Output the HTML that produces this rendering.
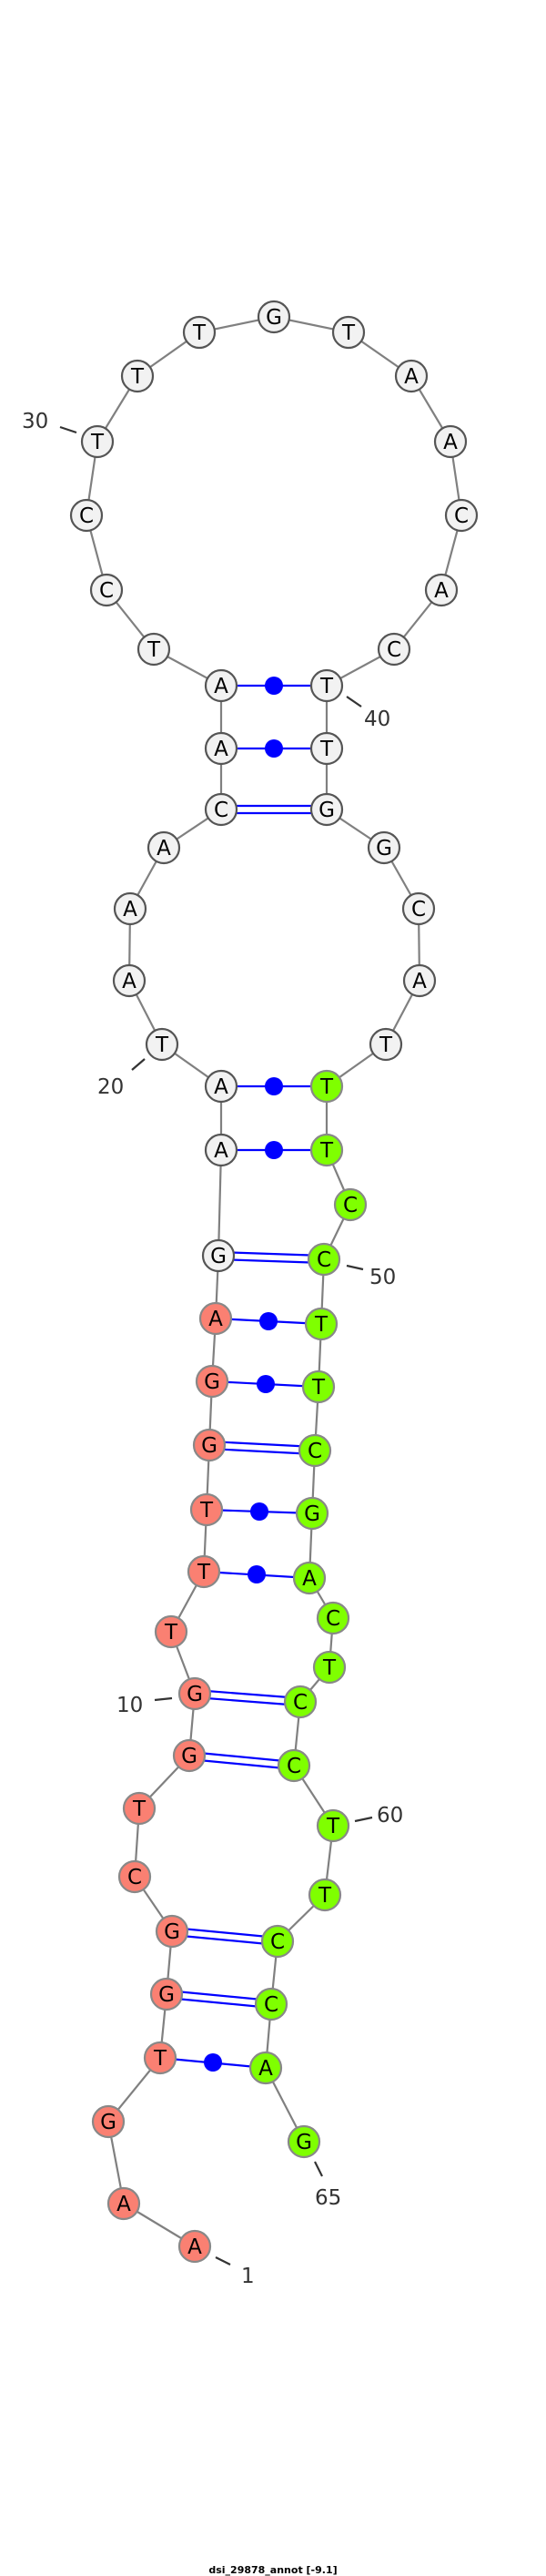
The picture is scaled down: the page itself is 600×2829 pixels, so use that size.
<!DOCTYPE html>
<html><head><meta charset="utf-8"><style>
html,body{margin:0;padding:0;background:#fff;}
svg{display:block;}
.n text{font-family:"DejaVu Sans","Liberation Sans",sans-serif;font-size:23px;text-anchor:middle;fill:#000;}
.w{fill:#f2f2f2;stroke:#555;stroke-width:2.2;}
.r{fill:#fa8072;stroke:#888;stroke-width:2.2;}
.g{fill:#7fff00;stroke:#888;stroke-width:2.2;}
.num{font-family:"DejaVu Sans","Liberation Sans",sans-serif;font-size:23px;fill:#333;}
</style></head><body>
<svg width="600" height="2829" viewBox="0 0 600 2829" xmlns="http://www.w3.org/2000/svg">
<polyline fill="none" stroke="#808080" stroke-width="2.2" points="214,2467 136,2420 119,2330 176,2260 183,2190 189,2121 148,2061 153,1986 208,1928 214,1860 188,1792 224,1726 227,1658 230,1587 233,1517 237,1448 240,1379 243,1263 243,1193 178,1147 142,1077 143,998 180,931 243,889 243,822 243,753 169,713 117,648 95,566 107,485 151,413 219,365 301,348 383,365 452,413 495,485 507,566 485,648 433,713 359,753 359,822 359,889 422,931 460,998 461,1077 424,1147 359,1193 359,1263 385,1323 356,1383 353,1454 350,1523 346,1593 343,1662 340,1733 366,1777 362,1831 330,1869 323,1939 366,2005 357,2081 305,2132 298,2201 292,2271 334,2352"/>
<g stroke="#0000ff" stroke-width="2.2" fill="#0000ff">
<line x1="243" y1="753" x2="359" y2="753"/><circle cx="301" cy="753" r="10" stroke="none"/>
<line x1="243" y1="822" x2="359" y2="822"/><circle cx="301" cy="822" r="10" stroke="none"/>
<line x1="243" y1="885" x2="359" y2="885"/><line x1="243" y1="893" x2="359" y2="893"/>
<line x1="243" y1="1193" x2="359" y2="1193"/><circle cx="301" cy="1193" r="10" stroke="none"/>
<line x1="243" y1="1263" x2="359" y2="1263"/><circle cx="301" cy="1263" r="10" stroke="none"/>
<line x1="240" y1="1375" x2="356" y2="1379"/><line x1="240" y1="1383" x2="356" y2="1387"/>
<line x1="237" y1="1448" x2="353" y2="1454"/><circle cx="295" cy="1451" r="10" stroke="none"/>
<line x1="233" y1="1517" x2="350" y2="1523"/><circle cx="292" cy="1520" r="10" stroke="none"/>
<line x1="230" y1="1583" x2="346" y2="1589"/><line x1="230" y1="1591" x2="346" y2="1597"/>
<line x1="227" y1="1658" x2="343" y2="1662"/><circle cx="285" cy="1660" r="10" stroke="none"/>
<line x1="224" y1="1726" x2="340" y2="1733"/><circle cx="282" cy="1729" r="10" stroke="none"/>
<line x1="214" y1="1856" x2="330" y2="1865"/><line x1="214" y1="1864" x2="330" y2="1873"/>
<line x1="208" y1="1924" x2="323" y2="1935"/><line x1="208" y1="1932" x2="323" y2="1943"/>
<line x1="189" y1="2117" x2="305" y2="2128"/><line x1="189" y1="2125" x2="305" y2="2136"/>
<line x1="183" y1="2186" x2="298" y2="2197"/><line x1="183" y1="2194" x2="298" y2="2205"/>
<line x1="176" y1="2260" x2="292" y2="2271"/><circle cx="234" cy="2265" r="10" stroke="none"/>
</g>
<g stroke="#333" stroke-width="2.2">
<line x1="66" y1="469" x2="84" y2="475"/>
<line x1="381" y1="765" x2="397" y2="776"/>
<line x1="145" y1="1175" x2="159" y2="1163"/>
<line x1="381" y1="1390" x2="399" y2="1394"/>
<line x1="170" y1="1867" x2="189" y2="1865"/>
<line x1="390" y1="2000" x2="409" y2="1996"/>
<line x1="346" y1="2374" x2="354" y2="2390"/>
<line x1="237" y1="2479" x2="253" y2="2487"/>
</g>
<text class="num" x="24" y="470">30</text>
<text class="num" x="400" y="797">40</text>
<text class="num" x="107" y="1201">20</text>
<text class="num" x="406" y="1410">50</text>
<text class="num" x="128" y="1880">10</text>
<text class="num" x="414" y="2001">60</text>
<text class="num" x="346" y="2421">65</text>
<text class="num" x="265" y="2507">1</text>
<g class="n">
<circle class="r" cx="214" cy="2467" r="17"/><text x="214" y="2475">A</text>
<circle class="r" cx="136" cy="2420" r="17"/><text x="136" y="2428">A</text>
<circle class="r" cx="119" cy="2330" r="17"/><text x="119" y="2338">G</text>
<circle class="r" cx="176" cy="2260" r="17"/><text x="176" y="2268">T</text>
<circle class="r" cx="183" cy="2190" r="17"/><text x="183" y="2198">G</text>
<circle class="r" cx="189" cy="2121" r="17"/><text x="189" y="2129">G</text>
<circle class="r" cx="148" cy="2061" r="17"/><text x="148" y="2069">C</text>
<circle class="r" cx="153" cy="1986" r="17"/><text x="153" y="1994">T</text>
<circle class="r" cx="208" cy="1928" r="17"/><text x="208" y="1936">G</text>
<circle class="r" cx="214" cy="1860" r="17"/><text x="214" y="1868">G</text>
<circle class="r" cx="188" cy="1792" r="17"/><text x="188" y="1800">T</text>
<circle class="r" cx="224" cy="1726" r="17"/><text x="224" y="1734">T</text>
<circle class="r" cx="227" cy="1658" r="17"/><text x="227" y="1666">T</text>
<circle class="r" cx="230" cy="1587" r="17"/><text x="230" y="1595">G</text>
<circle class="r" cx="233" cy="1517" r="17"/><text x="233" y="1525">G</text>
<circle class="r" cx="237" cy="1448" r="17"/><text x="237" y="1456">A</text>
<circle class="w" cx="240" cy="1379" r="17"/><text x="240" y="1387">G</text>
<circle class="w" cx="243" cy="1263" r="17"/><text x="243" y="1271">A</text>
<circle class="w" cx="243" cy="1193" r="17"/><text x="243" y="1201">A</text>
<circle class="w" cx="178" cy="1147" r="17"/><text x="178" y="1155">T</text>
<circle class="w" cx="142" cy="1077" r="17"/><text x="142" y="1085">A</text>
<circle class="w" cx="143" cy="998" r="17"/><text x="143" y="1006">A</text>
<circle class="w" cx="180" cy="931" r="17"/><text x="180" y="939">A</text>
<circle class="w" cx="243" cy="889" r="17"/><text x="243" y="897">C</text>
<circle class="w" cx="243" cy="822" r="17"/><text x="243" y="830">A</text>
<circle class="w" cx="243" cy="753" r="17"/><text x="243" y="761">A</text>
<circle class="w" cx="169" cy="713" r="17"/><text x="169" y="721">T</text>
<circle class="w" cx="117" cy="648" r="17"/><text x="117" y="656">C</text>
<circle class="w" cx="95" cy="566" r="17"/><text x="95" y="574">C</text>
<circle class="w" cx="107" cy="485" r="17"/><text x="107" y="493">T</text>
<circle class="w" cx="151" cy="413" r="17"/><text x="151" y="421">T</text>
<circle class="w" cx="219" cy="365" r="17"/><text x="219" y="373">T</text>
<circle class="w" cx="301" cy="348" r="17"/><text x="301" y="356">G</text>
<circle class="w" cx="383" cy="365" r="17"/><text x="383" y="373">T</text>
<circle class="w" cx="452" cy="413" r="17"/><text x="452" y="421">A</text>
<circle class="w" cx="495" cy="485" r="17"/><text x="495" y="493">A</text>
<circle class="w" cx="507" cy="566" r="17"/><text x="507" y="574">C</text>
<circle class="w" cx="485" cy="648" r="17"/><text x="485" y="656">A</text>
<circle class="w" cx="433" cy="713" r="17"/><text x="433" y="721">C</text>
<circle class="w" cx="359" cy="753" r="17"/><text x="359" y="761">T</text>
<circle class="w" cx="359" cy="822" r="17"/><text x="359" y="830">T</text>
<circle class="w" cx="359" cy="889" r="17"/><text x="359" y="897">G</text>
<circle class="w" cx="422" cy="931" r="17"/><text x="422" y="939">G</text>
<circle class="w" cx="460" cy="998" r="17"/><text x="460" y="1006">C</text>
<circle class="w" cx="461" cy="1077" r="17"/><text x="461" y="1085">A</text>
<circle class="w" cx="424" cy="1147" r="17"/><text x="424" y="1155">T</text>
<circle class="g" cx="359" cy="1193" r="17"/><text x="359" y="1201">T</text>
<circle class="g" cx="359" cy="1263" r="17"/><text x="359" y="1271">T</text>
<circle class="g" cx="385" cy="1323" r="17"/><text x="385" y="1331">C</text>
<circle class="g" cx="356" cy="1383" r="17"/><text x="356" y="1391">C</text>
<circle class="g" cx="353" cy="1454" r="17"/><text x="353" y="1462">T</text>
<circle class="g" cx="350" cy="1523" r="17"/><text x="350" y="1531">T</text>
<circle class="g" cx="346" cy="1593" r="17"/><text x="346" y="1601">C</text>
<circle class="g" cx="343" cy="1662" r="17"/><text x="343" y="1670">G</text>
<circle class="g" cx="340" cy="1733" r="17"/><text x="340" y="1741">A</text>
<circle class="g" cx="366" cy="1777" r="17"/><text x="366" y="1785">C</text>
<circle class="g" cx="362" cy="1831" r="17"/><text x="362" y="1839">T</text>
<circle class="g" cx="330" cy="1869" r="17"/><text x="330" y="1877">C</text>
<circle class="g" cx="323" cy="1939" r="17"/><text x="323" y="1947">C</text>
<circle class="g" cx="366" cy="2005" r="17"/><text x="366" y="2013">T</text>
<circle class="g" cx="357" cy="2081" r="17"/><text x="357" y="2089">T</text>
<circle class="g" cx="305" cy="2132" r="17"/><text x="305" y="2140">C</text>
<circle class="g" cx="298" cy="2201" r="17"/><text x="298" y="2209">C</text>
<circle class="g" cx="292" cy="2271" r="17"/><text x="292" y="2279">A</text>
<circle class="g" cx="334" cy="2352" r="17"/><text x="334" y="2360">G</text>
</g>
<text x="300" y="2826" text-anchor="middle" font-family="'DejaVu Sans','Liberation Sans',sans-serif" font-size="11" font-weight="bold" fill="#000">dsi_29878_annot [-9.1]</text>
</svg>
</body></html>
